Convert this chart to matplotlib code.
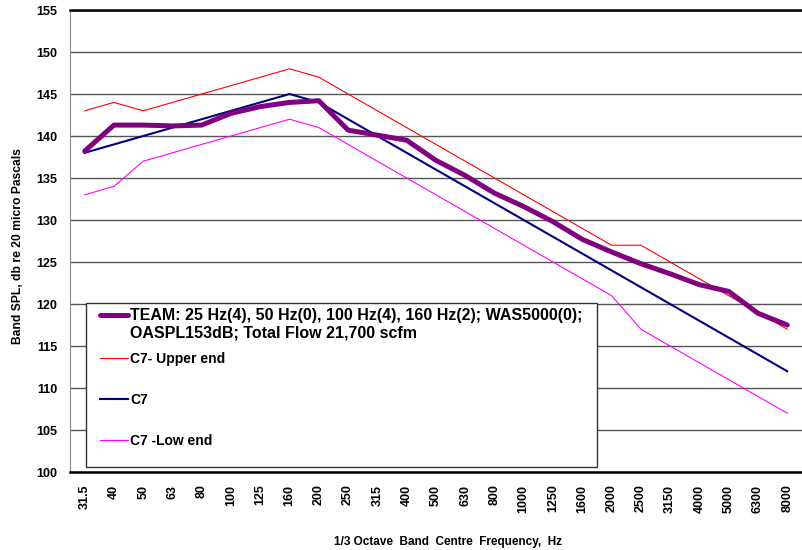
import matplotlib
matplotlib.use('Agg')
import matplotlib.pyplot as plt
from matplotlib.patches import Rectangle
from matplotlib.legend_handler import HandlerLine2D
import numpy as np

plt.rcParams['font.family'] = ['Liberation Sans', 'DejaVu Sans']
plt.rcParams['font.weight'] = 'bold'

# 1/3 octave band centres
freqs = ['31.5', '40', '50', '63', '80', '100', '125', '160', '200', '250',
         '315', '400', '500', '630', '800', '1000', '1250', '1600', '2000',
         '2500', '3150', '4000', '5000', '6300', '8000']

team = [138.2, 141.3, 141.3, 141.2, 141.3, 142.7, 143.5, 144.0, 144.2, 140.7,
        140.1, 139.5, 137.1, 135.3, 133.2, 131.6, 129.8, 127.7, 126.2, 124.8,
        123.6, 122.3, 121.5, 118.9, 117.5]
c7_upper = [143, 144, 143, 144, 145, 146, 147, 148, 147, 145, 143, 141, 139,
            137, 135, 133, 131, 129, 127, 127, 125, 123, 121, 119, 117]
c7 = [138, 139, 140, 141, 142, 143, 144, 145, 144, 142, 140, 138, 136, 134,
      132, 130, 128, 126, 124, 122, 120, 118, 116, 114, 112]
c7_low = [133, 134, 137, 138, 139, 140, 141, 142, 141, 139, 137, 135, 133,
          131, 129, 127, 125, 123, 121, 117, 115, 113, 111, 109, 107]

team_label = ('TEAM: 25 Hz(4), 50 Hz(0), 100 Hz(4), 160 Hz(2); WAS5000(0);\n'
              'OASPL153dB; Total Flow 21,700 scfm')


class FirstLineHandler(HandlerLine2D):
    # put the legend sample next to the first line of a two line label
    def create_artists(self, legend, orig_handle, xdescent, ydescent,
                       width, height, fontsize, trans):
        arts = super().create_artists(legend, orig_handle, xdescent, ydescent,
                                      width, height, fontsize, trans)
        for a in arts:
            a.set_ydata(np.asarray(a.get_ydata()) + 0.6 * fontsize)
        return arts


fig = plt.figure(figsize=(8.02, 5.5), dpi=100)
ax = fig.add_axes([0.0873, 0.1418, 0.9125, 0.8400])

x = np.arange(len(freqs))
l_team, = ax.plot(x, team, color='#800080', lw=3.6, solid_joinstyle='round',
                  solid_capstyle='round', zorder=5)
l_up, = ax.plot(x, c7_upper, color='#ff0000', lw=0.8, zorder=4)
l_c7, = ax.plot(x, c7, color='#000080', lw=1.5, zorder=4)
l_low, = ax.plot(x, c7_low, color='#ff00ff', lw=0.8, zorder=4)

ax.set_xlim(-0.5, len(freqs) - 0.5)
ax.set_ylim(100, 155)
ax.set_yticks(np.arange(100, 156, 5))
ax.set_xticks(x)
ax.set_xticklabels(freqs, rotation=90, fontsize=9, fontweight='bold')
ax.tick_params(axis='y', labelsize=9, length=0, pad=9)
ax.tick_params(axis='x', length=0, pad=9)
for lab in ax.get_yticklabels():
    lab.set_fontweight('bold')

ax.yaxis.grid(True, color='#555555', lw=1)
ax.set_axisbelow(True)
ax.spines['left'].set_color('#888888')
ax.spines['top'].set_linewidth(1.8)
ax.spines['bottom'].set_linewidth(1.8)
ax.spines['right'].set_visible(False)

ax.set_xlabel('1/3 Octave  Band  Centre  Frequency,  Hz', fontsize=8.5,
              fontweight='bold', va='center')
ax.xaxis.set_label_coords(0.517, -0.1515)
ax.set_ylabel('Band SPL, db re 20 micro Pascals', fontsize=8.7,
              fontweight='bold', va='center')
ax.yaxis.set_label_coords(-0.071, 0.489)

# legend box
ax.add_patch(Rectangle((0.0219, 0.0108), 0.6977, 0.355, transform=ax.transAxes,
                       facecolor='white', edgecolor='#333333', lw=1.0, zorder=3))

leg1 = ax.legend([l_team], [team_label], loc='center left',
                 bbox_to_anchor=(0.041, 0.320), frameon=False, borderpad=0,
                 borderaxespad=0, handlelength=1.75, handletextpad=0.12,
                 prop={'size': 11.5, 'weight': 'bold'},
                 handler_map={l_team: FirstLineHandler()})
ax.add_artist(leg1)
ax.legend([l_up, l_c7, l_low], ['C7- Upper end', 'C7', 'C7 -Low end'],
          loc='center left', bbox_to_anchor=(0.041, 0.156), frameon=False,
          borderpad=0, borderaxespad=0, handlelength=2.0, handletextpad=0.15,
          labelspacing=1.93, prop={'size': 10, 'weight': 'bold'})

fig.savefig('out.png', dpi=100)
